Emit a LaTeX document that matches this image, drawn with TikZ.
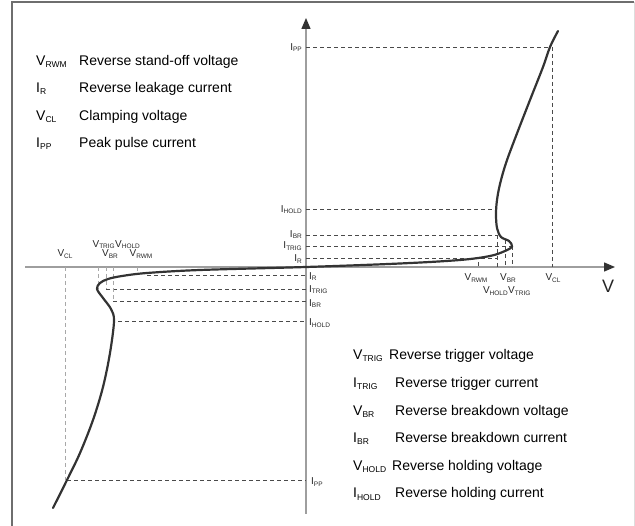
\documentclass[tikz,border=0pt]{standalone}
\usepackage{fontspec}
\setmainfont{Liberation Sans}
\usetikzlibrary{arrows.meta}
\definecolor{axisgray}{HTML}{9E9E9E}
\definecolor{headgray}{HTML}{333333}
\definecolor{curvegray}{HTML}{333333}
\definecolor{guidegray}{HTML}{4A4A4A}
\definecolor{lightguide}{HTML}{A8A8A8}
\definecolor{framegray}{HTML}{6E6E6E}
\definecolor{lightframe}{HTML}{DDDDDD}
\newcommand{\Lsym}[2]{#1\raisebox{-2pt}{\fontsize{8.5}{9}\selectfont #2}}
\newcommand{\Asym}[2]{{\fontsize{10}{11}\selectfont #1}\raisebox{-1.5pt}{\fontsize{6.5}{7}\selectfont #2}}
\begin{document}
\begin{tikzpicture}[x=1pt,y=-1pt,
  axis/.style={draw=axisgray, line width=1.4pt},
  guide/.style={draw=guidegray, line width=0.7pt, dash pattern=on 4pt off 3pt},
  guidelight/.style={guide, draw=lightguide},
  curveline/.style={draw=curvegray, line width=2.2pt, line cap=round},
  leg/.style={font=\fontsize{14}{16}\selectfont, anchor=base west, inner sep=0pt},
  alab/.style={inner sep=0pt, text=black!85}]
\useasboundingbox (0,0) rectangle (635,526);
% frame
\draw[draw=framegray, line width=1.2pt] (12,526) -- (12,2) -- (634,2);
\draw[draw=lightframe, line width=1pt] (634,2) -- (634,526);
% axes
\coordinate (yb) at (306,514);
\coordinate (yt) at (306,18);
\coordinate (xl) at (25,267);
\coordinate (xr) at (615,267);
\draw[axis, -{Triangle[length=11pt,width=9pt,color=headgray]}] (yb) -- (yt);
\draw[axis, -{Triangle[length=11pt,width=9pt,color=headgray]}] (xl) -- (xr);
\node[inner sep=0pt, font=\fontsize{18}{20}\selectfont, text=black!85] (vlab) at (608,286) {V};
% ---- right guides
\coordinate (ippR) at (550,47);
\coordinate (ippRa) at (306,47);
\coordinate (vclR) at (552,47);
\coordinate (vclRa) at (552,267);
\draw[guide] (ippRa) -- (ippR);
\draw[guide] (vclR) -- (vclRa);
\coordinate (iholdR) at (495,209);
\coordinate (ibrR) at (497,235);
\coordinate (itrigR) at (512,246);
\coordinate (irR) at (497,258);
\draw[guide] (306,209) -- (iholdR);
\draw[guide] (306,235) -- (ibrR);
\draw[guide] (306,246) -- (itrigR);
\draw[guide] (306,258) -- (irR);
\draw[guide] (ibrR) -- (497,267);
\draw[guide] (505,240) -- (505,267);
\draw[guide] (itrigR) -- (512,267);
\draw[guide] (478,262) -- (478,267);
% ---- left guides
\coordinate (ippL) at (67,480);
\draw[guide] (ippL) -- (306,480);
\draw[guidelight] (65,267) -- (65,480);
\coordinate (irL) at (147,275);
\coordinate (itrigL) at (106,289);
\coordinate (ibrL) at (113,301);
\coordinate (iholdL) at (118,321);
\draw[guide] (irL) -- (306,275);
\draw[guide] (itrigL) -- (306,289);
\draw[guide] (ibrL) -- (306,301);
\draw[guide] (iholdL) -- (306,321);
\draw[guidelight] (98,267) -- (98,289);
\draw[guidelight] (106,267) -- (itrigL);
\draw[guidelight] (113,267) -- (ibrL);
\draw[guidelight] (137,267) -- (137,272);
% ---- curve
\draw[curveline] plot[smooth, tension=0.55] coordinates {(53,508) (67,480) (80,453) (93,420) (103,387) (110,353) (114,321) (111,309) (103,298) (97,289) (100,283) (108,279) (122,276) (147,273) (200,270) (306,267) (400,263.5) (460,260) (490,256) (505,251) (512,246.5) (509,241) (501,237) (497,228) (496,214) (497,200) (500,184) (506,163) (516,136) (530,100) (543,67) (550,47) (558,31)};
% ---- axis labels right
\node[alab, anchor=base east] (lippT) at (302,50.5) {\Asym{I}{PP}};
\node[alab, anchor=base east] (liholdT) at (302,212.5) {\Asym{I}{HOLD}};
\node[alab, anchor=base east] (librT) at (302,237.5) {\Asym{I}{BR}};
\node[alab, anchor=base east] (litrigT) at (302,249) {\Asym{I}{TRIG}};
\node[alab, anchor=base east] (lirT) at (302,262) {\Asym{I}{R}};
\node[alab, anchor=base] (lvrwmR) at (476,281) {\Asym{V}{RWM}};
\node[alab, anchor=base] (lvbrR) at (508,281) {\Asym{V}{BR}};
\node[alab, anchor=base] (lvclR) at (553,281) {\Asym{V}{CL}};
\node[alab, anchor=base east] (lvholdR) at (508,294) {\Asym{V}{HOLD}};
\node[alab, anchor=base west] (lvtrigR) at (508,294) {\Asym{V}{TRIG}};
% ---- axis labels left
\node[alab, anchor=base west] (lirB) at (309,279.5) {\Asym{I}{R}};
\node[alab, anchor=base west] (litrigB) at (309,292.5) {\Asym{I}{TRIG}};
\node[alab, anchor=base west] (librB) at (309,306.5) {\Asym{I}{BR}};
\node[alab, anchor=base west] (liholdB) at (309,326) {\Asym{I}{HOLD}};
\node[alab, anchor=base west] (lippB) at (311,485) {\Asym{I}{PP}};
\node[alab, anchor=base] (lvclL) at (65,257) {\Asym{V}{CL}};
\node[alab, anchor=base] (lvbrL) at (110,257) {\Asym{V}{BR}};
\node[alab, anchor=base] (lvrwmL) at (141,257) {\Asym{V}{RWM}};
\node[alab, anchor=base east] (lvtrigL) at (115,247.5) {\Asym{V}{TRIG}};
\node[alab, anchor=base west] (lvholdL) at (115,247.5) {\Asym{V}{HOLD}};
% ---- legend top-left
\node[leg] (s1) at (36,66) {\Lsym{V}{RWM}};
\node[leg] (d1) at (79,66) {Reverse stand-off voltage};
\node[leg] (s2) at (36,93) {\Lsym{I}{R}};
\node[leg] (d2) at (79,93) {Reverse leakage current};
\node[leg] (s3) at (36,121) {\Lsym{V}{CL}};
\node[leg] (d3) at (79,121) {Clamping voltage};
\node[leg] (s4) at (36,148) {\Lsym{I}{PP}};
\node[leg] (d4) at (79,148) {Peak pulse current};
% ---- legend bottom-right
\node[leg] (s5) at (353,360) {\Lsym{V}{TRIG}};
\node[leg] (d5) at (389,360) {Reverse trigger voltage};
\node[leg] (s6) at (353,388) {\Lsym{I}{TRIG}};
\node[leg] (d6) at (395,388) {Reverse trigger current};
\node[leg] (s7) at (353,416) {\Lsym{V}{BR}};
\node[leg] (d7) at (395,416) {Reverse breakdown voltage};
\node[leg] (s8) at (353,443) {\Lsym{I}{BR}};
\node[leg] (d8) at (395,443) {Reverse breakdown current};
\node[leg] (s9) at (353,471) {\Lsym{V}{HOLD}};
\node[leg] (d9) at (392,471) {Reverse holding voltage};
\node[leg] (s10) at (353,498) {\Lsym{I}{HOLD}};
\node[leg] (d10) at (395,498) {Reverse holding current};
\end{tikzpicture}
\end{document}
